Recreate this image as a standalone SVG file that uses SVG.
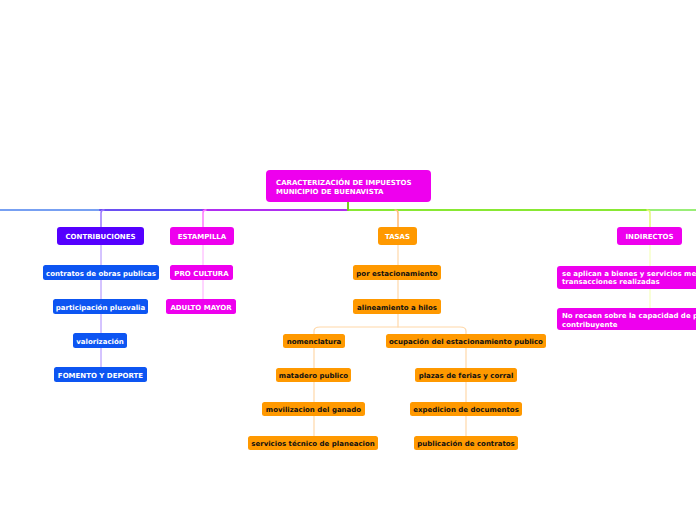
<svg xmlns="http://www.w3.org/2000/svg" width="696" height="520" viewBox="0 0 696 520">
<style>
text{font-family:"DejaVu Sans","Verdana",sans-serif;font-weight:bold;font-size:7px}
.w{fill:#fff}
.k{fill:#111}
.m{text-anchor:middle}
.ln{fill:none;stroke-linecap:round}
</style>
<rect width="696" height="520" fill="#fff"/>
<g id="connectors">
<path class="ln" d="M0 210 H100" stroke="#77a0f2" stroke-width="2"/>
<path class="ln" d="M100 210 H203" stroke="#6a4ff2" stroke-width="2"/>
<path class="ln" d="M203 210 H348" stroke="#b02ef0" stroke-width="2"/>
<path class="ln" d="M348 210 H650" stroke="#88e833" stroke-width="2"/>
<path class="ln" d="M650 210 H696" stroke="#99ee77" stroke-width="2"/>
<path class="ln" d="M348 202 V210" stroke="#77cc22" stroke-width="2"/>
<path class="ln" d="M104 210 Q101 210 101 213 V227" stroke="#9a77ff" stroke-width="1.5"/>
<path class="ln" d="M206 210 Q203 210 203 213 V227" stroke="#ff77ff" stroke-width="1.5"/>
<path class="ln" d="M395 210 Q398 210 398 213 V227" stroke="#ffbb77" stroke-width="1.5"/>
<path class="ln" d="M647 210 Q650 210 650 213 V227" stroke="#e4f877" stroke-width="1.5"/>
<path class="ln" d="M101 245 V367" stroke="#aa88ff" stroke-width="1"/>
<path class="ln" d="M203 245 V299" stroke="#ffaaff" stroke-width="1"/>
<path class="ln" d="M398 245 V327" stroke="#ffd8a8" stroke-width="1.2"/>
<path class="ln" d="M314 334 V331 Q314 327 320 327 H460 Q466 327 466 331 V334" stroke="#ffd8a8" stroke-width="1.2"/>
<path class="ln" d="M314 348 V436" stroke="#ffd8a8" stroke-width="1.2"/>
<path class="ln" d="M466 348 V436" stroke="#ffd8a8" stroke-width="1.2"/>
<path class="ln" d="M650 245 V309" stroke="#f2ffb0" stroke-width="1"/>
</g>
<g id="root">
<rect x="266" y="170" width="165" height="32" rx="4" fill="#ee00ee"/>
<text class="w" x="276" y="185">CARACTERIZACIÓN DE IMPUESTOS</text>
<text class="w" x="276" y="193.5">MUNICIPIO DE BUENAVISTA</text>
</g>
<g id="contribuciones">
<rect x="57" y="227" width="87" height="18" rx="3" fill="#5500ff"/>
<text class="w m" x="100.5" y="238.5">CONTRIBUCIONES</text>
</g>
<g id="estampilla">
<rect x="170" y="227" width="64" height="18" rx="3" fill="#ee00ee"/>
<text class="w m" x="202" y="238.5">ESTAMPILLA</text>
</g>
<g id="tasas">
<rect x="378" y="227" width="39" height="18" rx="3" fill="#ff9900"/>
<text class="w m" x="397.5" y="238.5">TASAS</text>
</g>
<g id="indirectos">
<rect x="617" y="227" width="65" height="18" rx="3" fill="#ee00ee"/>
<text class="w m" x="649.5" y="238.5">INDIRECTOS</text>
</g>
<g id="contratos">
<rect x="43" y="265" width="116" height="15" rx="2.5" fill="#0d55f2"/>
<text class="w m" x="101" y="275.5">contratos de obras publicas</text>
</g>
<g id="plusvalia">
<rect x="53" y="299" width="95" height="15" rx="2.5" fill="#0d55f2"/>
<text class="w m" x="100.5" y="309.5">participación plusvalia</text>
</g>
<g id="valorizacion">
<rect x="73" y="333" width="54" height="15" rx="2.5" fill="#0d55f2"/>
<text class="w m" x="100" y="343.5">valorización</text>
</g>
<g id="fomento">
<rect x="54" y="367" width="93" height="15" rx="2.5" fill="#0d55f2"/>
<text class="w m" x="100.5" y="377.5">FOMENTO Y DEPORTE</text>
</g>
<g id="procultura">
<rect x="170" y="265" width="63" height="15" rx="2.5" fill="#ee00ee"/>
<text class="w m" x="201.5" y="275.5">PRO CULTURA</text>
</g>
<g id="adulto">
<rect x="166" y="299" width="70" height="15" rx="2.5" fill="#ee00ee"/>
<text class="w m" x="201" y="309.5">ADULTO MAYOR</text>
</g>
<g id="estacionamiento">
<rect x="353" y="265" width="88" height="15" rx="2.5" fill="#ff9900"/>
<text class="k m" x="397" y="275.5">por estacionamiento</text>
</g>
<g id="alineamiento">
<rect x="353" y="299" width="88" height="15" rx="2.5" fill="#ff9900"/>
<text class="k m" x="397" y="309.5">alineamiento a hilos</text>
</g>
<g id="nomenclatura">
<rect x="283" y="334" width="62" height="14" rx="2.5" fill="#ff9900"/>
<text class="k m" x="314" y="344">nomenclatura</text>
</g>
<g id="ocupacion">
<rect x="386" y="334" width="160" height="14" rx="2.5" fill="#ff9900"/>
<text class="k m" x="466" y="344">ocupación del estacionamiento publico</text>
</g>
<g id="matadero">
<rect x="276" y="368" width="75" height="14" rx="2.5" fill="#ff9900"/>
<text class="k m" x="313.5" y="378">matadero publico</text>
</g>
<g id="movilizacion">
<rect x="262" y="402" width="103" height="14" rx="2.5" fill="#ff9900"/>
<text class="k m" x="313.5" y="412">movilizacion del ganado</text>
</g>
<g id="servicios">
<rect x="248" y="436" width="130" height="14" rx="2.5" fill="#ff9900"/>
<text class="k m" x="313" y="446">servicios técnico de planeacion</text>
</g>
<g id="plazas">
<rect x="415" y="368" width="102" height="14" rx="2.5" fill="#ff9900"/>
<text class="k m" x="466" y="378">plazas de ferias y corral</text>
</g>
<g id="expedicion">
<rect x="410" y="402" width="112" height="14" rx="2.5" fill="#ff9900"/>
<text class="k m" x="466" y="412">expedicion de documentos</text>
</g>
<g id="publicacion">
<rect x="414" y="436" width="104" height="14" rx="2.5" fill="#ff9900"/>
<text class="k m" x="466" y="446">publicación de contratos</text>
</g>
<g id="bienes">
<rect x="557" y="266" width="160" height="23" rx="3" fill="#ee00ee"/>
<text class="w" x="562" y="275.5">se aplican a bienes y servicios med</text>
<text class="w" x="562" y="284">transacciones realizadas</text>
</g>
<g id="capacidad">
<rect x="557" y="308" width="160" height="22" rx="3" fill="#ee00ee"/>
<text class="w" x="562" y="318">No recaen sobre la capacidad de p</text>
<text class="w" x="562" y="327">contribuyente</text>
</g>
</svg>
